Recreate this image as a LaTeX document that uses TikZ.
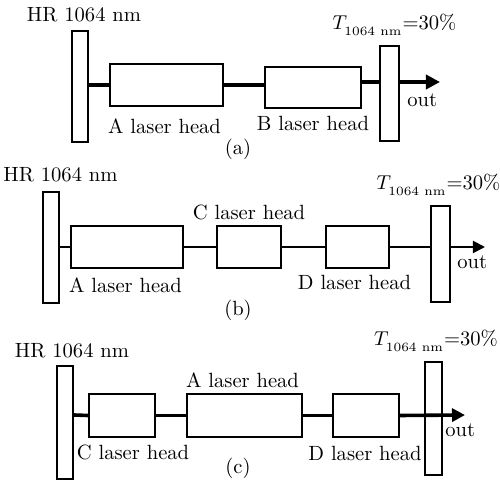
\documentclass[tikz,border=0pt]{standalone}
\usepackage{tikz}
\usepackage{amsmath}
\usetikzlibrary{arrows.meta, positioning}

\newcommand{\Tlabel}{$T_{\raisebox{-1.3pt}{\fontsize{6.3}{7}\selectfont 1064 nm}}$=30\%}

\begin{document}
\begin{tikzpicture}[
    x=0.5pt, y=-0.5pt,
    mirror/.style={rectangle, draw, line width=0.9pt, inner sep=0, minimum width=8pt},
    head/.style={rectangle, draw, line width=0.9pt, inner sep=0, minimum height=21pt},
    lbl/.style={inner sep=0, font=\fontsize{10.3}{12}\selectfont},
    beam/.style={line width=#1},
    outarrow/.style={-{Triangle[length=#1, width=#1]}}
]
\useasboundingbox (0,0) rectangle (500,481);

% (a)
\node[mirror, minimum height=55.5pt] (hrA) at (80,86.5) {};
\node[head, minimum width=56.5pt] (headA) at (166.5,85) {};
\node[head, minimum width=48pt, minimum height=20.5pt] (headB) at (313,87.5) {};
\node[mirror, minimum width=9.5pt, minimum height=47.5pt] (ocA) at (389.5,93.5) {};
\coordinate (outA) at (440,82);

\node[lbl, above=4pt of hrA, xshift=2pt] (hrtxtA) {HR 1064 nm};
\node[lbl, below=5.5pt of headA, xshift=-1pt] (txtA) {A laser head};
\node[lbl, below=3.5pt of headB] (txtB) {B laser head};
\node[lbl, above=4.5pt of ocA, xshift=2.5pt] (ttxtA) {\Tlabel};
\node[lbl, anchor=base west] (outtxtA) at (407,107) {out};
\node[lbl] (capA) at (238,149) {(a)};

\draw[beam=2.2pt] (hrA.east |- headA) -- (headA.west);
\draw[beam=2.2pt] (headA.east) -- (headB.west |- headA);
\draw[beam=2.2pt] (headB.east |- outA) -- (ocA.west |- outA);
\draw[beam=2.2pt, outarrow=7pt] (ocA.east |- outA) -- (outA);

% (b)
\node[mirror, minimum height=55.5pt] (hrB) at (51,247.5) {};
\node[head, minimum width=56pt] (headBa) at (127,247) {};
\node[head, minimum width=32pt] (headBc) at (249,247) {};
\node[head, minimum width=31.5pt] (headBd) at (357.5,247) {};
\node[mirror, minimum width=9.5pt, minimum height=48pt] (ocB) at (440.5,254) {};
\coordinate (outB) at (485,247);

\node[lbl, above=4.5pt of hrB, xshift=4.75pt] (hrtxtB) {HR 1064 nm};
\node[lbl, below=4pt of headBa, xshift=-0.75pt] (txtBa) {A laser head};
\node[lbl, above=2.5pt of headBc] (txtBc) {C laser head};
\node[lbl, below=3pt of headBd, xshift=-1.5pt] (txtBd) {D laser head};
\node[lbl, above=4.5pt of ocB, xshift=-1pt] (ttxtB) {\Tlabel};
\node[lbl, anchor=base west] (outtxtB) at (457,269) {out};
\node[lbl] (capB) at (238,310) {(b)};

\draw[beam=1pt] (hrB.east |- outB) -- (headBa.west);
\draw[beam=1pt] (headBa.east) -- (headBc.west);
\draw[beam=1pt] (headBc.east) -- (headBd.west);
\draw[beam=1pt] (headBd.east) -- (ocB.west |- outB);
\draw[beam=1pt, outarrow=6pt] (ocB.east |- outB) -- (outB);

% (c)
\node[mirror, minimum height=56.5pt] (hrC) at (65,422.5) {};
\node[head, minimum width=33pt, minimum height=21.5pt] (headCc) at (122,415.5) {};
\node[head, minimum width=57.5pt, minimum height=21.5pt] (headCa) at (244.5,415.5) {};
\node[head, minimum width=33pt, minimum height=21.5pt] (headCd) at (366,415.5) {};
\node[mirror, minimum width=8.5pt, minimum height=56.5pt] (ocC) at (433.5,418.5) {};
\coordinate (outC) at (465,415);

\node[lbl, above=3.5pt of hrC, xshift=3.5pt] (hrtxtC) {HR 1064 nm};
\node[lbl, below=3.5pt of headCc, xshift=5.5pt] (txtCc) {C laser head};
\node[lbl, above=2.5pt of headCa, xshift=-1pt] (txtCa) {A laser head};
\node[lbl, below=4pt of headCd, xshift=-0.5pt] (txtCd) {D laser head};
\node[lbl, above=4.5pt of ocC, xshift=1.25pt] (ttxtC) {\Tlabel};
\node[lbl, anchor=base west] (outtxtC) at (445,437) {out};
\node[lbl] (capC) at (238,468) {(c)};

\draw[beam=1.8pt] (hrC.east |- outC) -- (headCc.west);
\draw[beam=1.8pt] (headCc.east) -- (headCa.west);
\draw[beam=1.8pt] (headCa.east) -- (headCd.west);
\draw[beam=1.8pt, outarrow=6.5pt] (headCd.east) -- (outC);

\end{tikzpicture}
\end{document}
